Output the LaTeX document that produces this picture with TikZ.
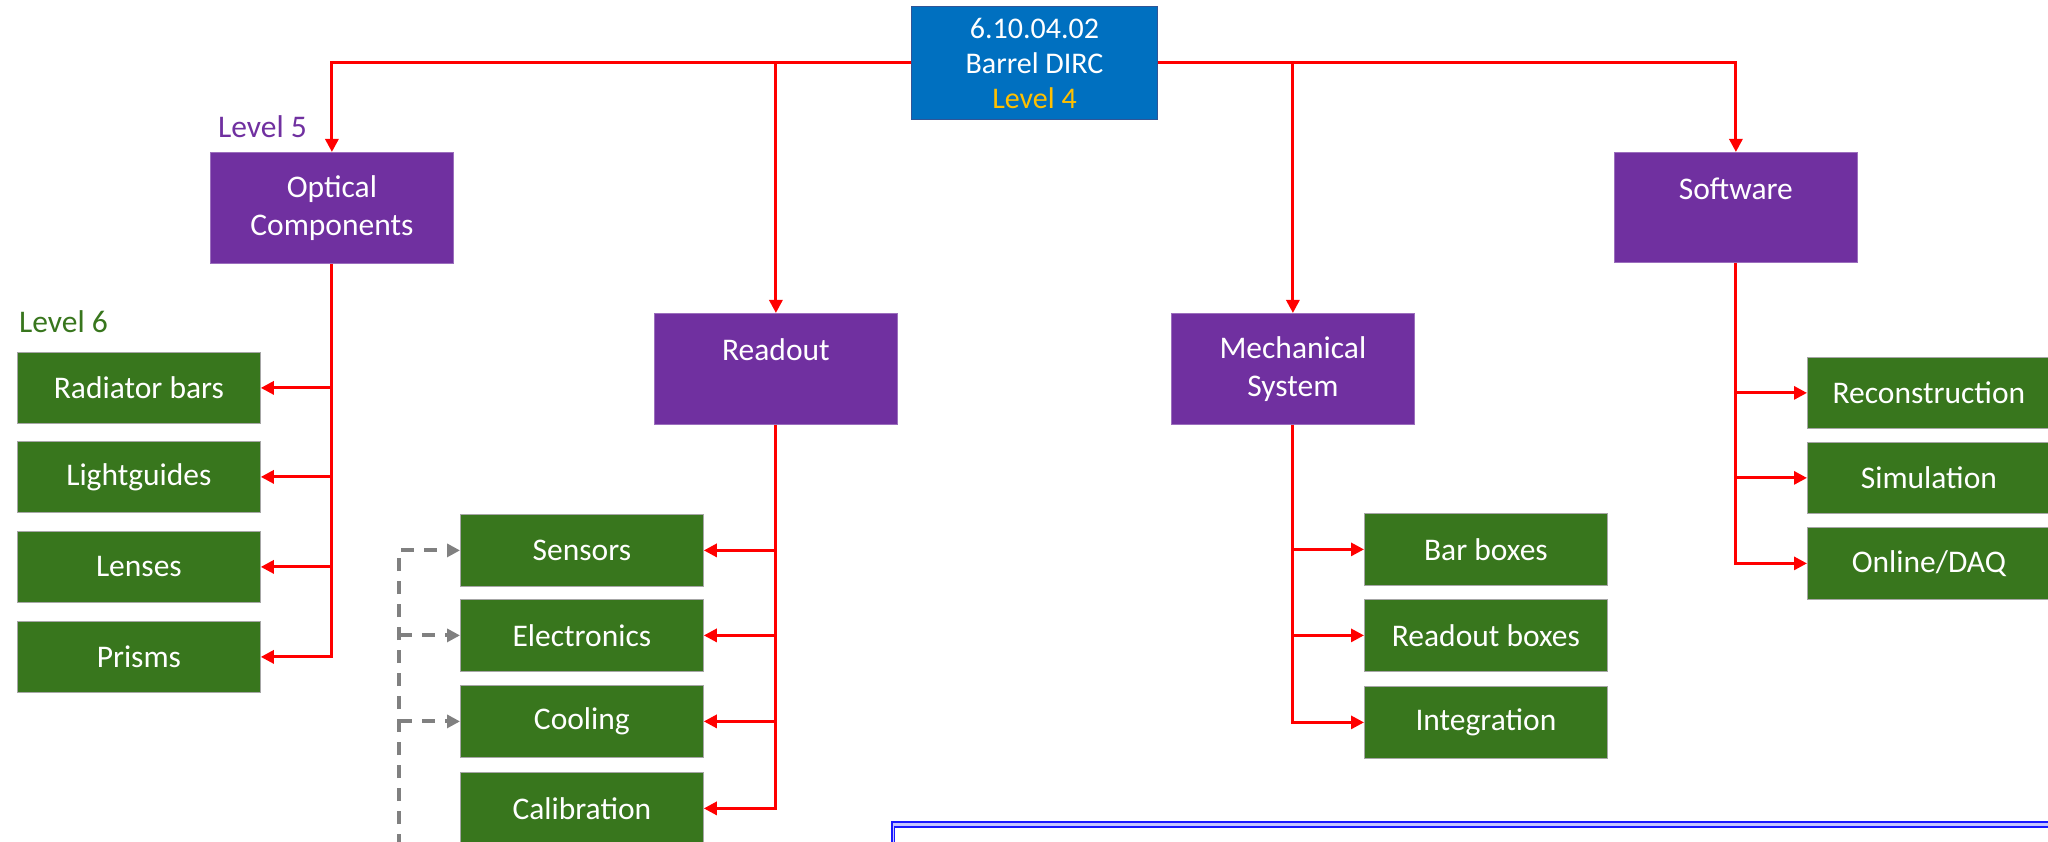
\documentclass[tikz,border=0pt]{standalone}
\usepackage{fontspec}
\setmainfont{Carlito}
\usetikzlibrary{arrows.meta}
\definecolor{boxblue}{HTML}{0070C0}
\definecolor{boxblueline}{HTML}{2F5597}
\definecolor{lvpurple}{HTML}{7030A0}
\definecolor{lvgreen}{HTML}{38761D}
\definecolor{lvgold}{HTML}{FFC000}
\definecolor{linered}{HTML}{FF0000}
\definecolor{dashgrey}{HTML}{808080}
\definecolor{frameblue}{HTML}{1A1AFF}
\begin{document}
\begin{tikzpicture}[x=1pt,y=-1pt,
 base/.style={rectangle, inner sep=0pt, anchor=north west, text=white, align=center, font=\fontsize{31.5}{38}\selectfont},
 topbox/.style={base, fill=boxblue, draw=boxblueline, line width=1pt, minimum width=246pt, minimum height=113pt, font=\fontsize{30}{35}\selectfont},
 lvfive/.style={base, fill=lvpurple, draw=lvpurple!70!white, line width=0.8pt, minimum width=243pt, minimum height=111pt},
 lvsix/.style={base, fill=lvgreen, draw=gray!70, line width=0.8pt, minimum width=243pt, minimum height=72pt},
 conn/.style={draw=linered, line width=3pt, -{Triangle[length=13pt,width=13pt]}},
 dsh/.style={draw=dashgrey, line width=4pt, dash pattern=on 13pt off 10pt, -{Triangle[length=13pt,width=13pt]}},
 lvlabel/.style={anchor=base west, inner sep=0pt, font=\fontsize{31.5}{36}\selectfont}
]
\clip (0,0) rectangle (2048,842);
\fill[white] (0,0) rectangle (2048,842);

% top
\node[topbox] (top) at (911,6) {6.10.04.02\\Barrel DIRC\\\textcolor{lvgold}{Level 4}};

% level labels
\node[lvlabel, text=lvpurple] (lv5) at (218,138) {Level 5};
\node[lvlabel, text=lvgreen] (lv6) at (19,333) {Level 6};

% level 5
\node[lvfive] (opt) at (210,152) {Optical\\Components};
\node[lvfive] (rdo) at (654,313) {Readout\\\mbox{}};
\node[lvfive] (mech) at (1171,313) {Mechanical\\System};
\node[lvfive, minimum height=110pt] (sw) at (1614,152) {Software\\\mbox{}};

% optical children
\node[lvsix, minimum height=71pt] (rad) at (17,352) {Radiator bars};
\node[lvsix, minimum height=71pt] (lgd) at (17,441) {Lightguides};
\node[lvsix, minimum height=71pt] (lns) at (17,531) {Lenses};
\node[lvsix, minimum height=71pt] (prs) at (17,621) {Prisms};

% readout children
\node[lvsix] (sen) at (460,514) {Sensors};
\node[lvsix] (ele) at (460,599) {Electronics};
\node[lvsix] (col) at (460,685) {Cooling};
\node[lvsix] (cal) at (460,772) {Calibration};

% mechanical children
\node[lvsix] (bar) at (1364,513) {Bar boxes};
\node[lvsix] (rob) at (1364,599) {Readout boxes};
\node[lvsix] (itg) at (1364,686) {Integration};

% software children
\node[lvsix, minimum height=71pt] (rec) at (1807,357) {Reconstruction};
\node[lvsix, minimum height=71pt] (sim) at (1807,442) {Simulation};
\node[lvsix] (onl) at (1807,527) {Online/DAQ};

% top connectors
\draw[conn] (top.west) -| (opt.north);
\draw[conn] (rdo.north |- top.west) -- (rdo.north);
\draw[conn] (top.east) -| (sw.north);
\draw[conn] (mech.north |- top.east) -- (mech.north);

% optical bus
\draw[conn] (opt.south) |- (prs.east);
\draw[conn] (opt.south |- rad.east) -- (rad.east);
\draw[conn] (opt.south |- lgd.east) -- (lgd.east);
\draw[conn] (opt.south |- lns.east) -- (lns.east);

% readout bus
\draw[conn] (rdo.south) |- (cal.east);
\draw[conn] (rdo.south |- sen.east) -- (sen.east);
\draw[conn] (rdo.south |- ele.east) -- (ele.east);
\draw[conn] (rdo.south |- col.east) -- (col.east);

% mechanical bus
\draw[conn] (mech.south) |- (itg.west);
\draw[conn] (mech.south |- bar.west) -- (bar.west);
\draw[conn] (mech.south |- rob.west) -- (rob.west);

% software bus
\draw[conn] (sw.south) |- (onl.west);
\draw[conn] (sw.south |- rec.west) -- (rec.west);
\draw[conn] (sw.south |- sim.west) -- (sim.west);

% dashed grey feed
\coordinate (dbot) at (399,870);
\draw[dsh] (dbot) |- (sen.west);
\draw[dsh] (dbot |- ele.west) -- (ele.west);
\draw[dsh] (dbot |- col.west) -- (col.west);

% blue double frame at bottom
\draw[frameblue, line width=1.5pt, fill=frameblue!25] (892,822) rectangle (2070,880);
\draw[frameblue, line width=1.5pt, fill=white] (894.5,827) rectangle (2070,880);
\end{tikzpicture}
\end{document}
